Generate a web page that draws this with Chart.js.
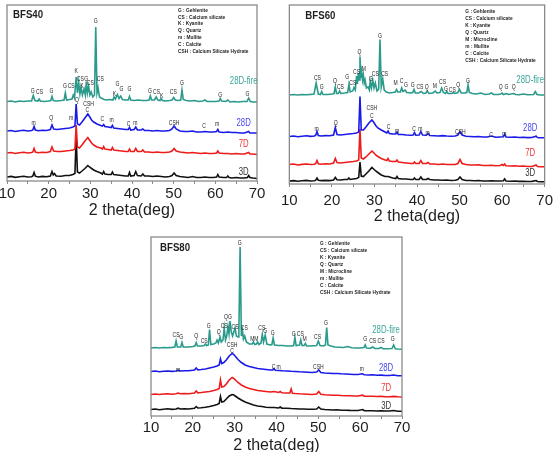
<!DOCTYPE html>
<html>
<head>
<meta charset="utf-8">
<script src="https://cdn.jsdelivr.net/npm/chart.js@4.4.1/dist/chart.umd.min.js"></script>
<style>
  html, body { margin: 0; padding: 0; background: #fff; }
  #page { position: relative; width: 553px; height: 452px; overflow: hidden; background: #fff; }
  canvas { position: absolute; }
</style>
</head>
<body>
<div id="page">
  <canvas id="bfs40" width="274" height="220" style="left:-5px;top:1px"></canvas>
  <canvas id="bfs60" width="282" height="226" style="left:276px;top:1px"></canvas>
  <canvas id="bfs80" width="275" height="223" style="left:139px;top:233px"></canvas>
</div>
<script>
// x range (2 theta, deg) and tick step
const thetaMin = 10, thetaMax = 70, thetaStep = 5;
const seriesNames = ['28D-fire', '28D', '7D', '3D'];

// legends of phases
const phases7 = ['G : Gehlenite', 'CS : Calcium silicate', 'K : Kyanite', 'Q : Quartz',
  'm : Mullite', 'C : Calcite', 'CSH : Calcium Silicate Hydrate'];
const phases8 = ['G : Gehlenite', 'CS : Calcium silicate', 'K : Kyanite', 'Q : Quartz',
  'M : Microcline', 'm : Mullite', 'C : Calcite', 'CSH : Calcium Silicate Hydrate'];

// ---------- BFS40 (intensity = offset above axis) ----------
const bfs40_3D = [[10,4],[11,4.6],[12,3.6],[13,4.3],[14,4.8],[15,4],[15.9,4.3],[16.2,5],[16.5,8.5],[16.8,4.8],[17.5,4],[18.5,4.6],[19.5,4.2],[20.4,5],[20.8,9.5],[21.1,6],[21.4,7.5],[21.8,5],[23,4.8],[24,5.5],[25,5.5],[25.8,6.5],[26.3,7.5],[26.6,44],[26.9,9],[27.4,8],[28,10],[28.7,12.5],[29.4,15.5],[29.8,14],[30.3,12.5],[30.8,11],[31.6,9.5],[32.5,8],[32.9,7],[33.2,9.5],[33.5,7],[34.3,6.5],[35,6.5],[35.3,9],[35.6,6.5],[36.5,6],[37.5,5.5],[38.5,5],[39.1,5],[39.4,8.5],[39.7,5],[40.5,5.5],[40.9,9.5],[41.3,5.5],[42.2,5],[42.6,7],[43,5],[44,5],[45,4.5],[46,5],[47,4.5],[48,4],[49,4.5],[49.6,5.5],[50.1,8],[50.6,5.5],[51.5,4.5],[52.5,4],[53.5,3.5],[54.5,4.5],[55.5,3.5],[56.5,3.5],[57.5,4],[58.5,3.5],[59.5,3.5],[60.3,4],[60.6,6.5],[60.9,4],[62,3.5],[62.7,3.5],[63,5],[63.3,3.5],[64,3],[65,3.5],[66,3],[67,3],[67.7,3.5],[68,5.5],[68.3,3.5],[69,3],[70,2.5]];
const bfs40_7D = [[10,28],[11,28.5],[12,27.5],[13,28.3],[14,28.8],[15,28],[15.9,28.5],[16.2,29],[16.5,32.5],[16.8,29],[17.5,28.3],[18.5,28.8],[19.5,28.5],[20.4,29.5],[20.8,34],[21.2,30],[22,29.5],[23,29.5],[24,30],[25,30.5],[25.8,31],[26.3,32],[26.6,56],[26.9,34],[27.4,33],[28,36],[28.7,40],[29.4,43.5],[29.8,41],[30.3,38],[30.8,36],[31.6,34],[32.5,33],[32.9,32],[33.2,34.5],[33.5,32],[34.3,31.5],[35,31],[35.3,33.5],[35.6,31],[36.5,30.5],[37.5,30],[38.5,29.5],[39.1,29.5],[39.4,32],[39.7,29.5],[40.5,29.5],[40.9,32.5],[41.3,29.5],[42.2,29.5],[42.6,31],[43,29],[44,29],[45,28.5],[46,29],[47,28.5],[48,28.5],[49,29],[49.6,30],[50.1,32.5],[50.6,30],[51.5,29],[52.5,28.5],[53.5,28],[54.5,28.5],[55.5,28],[56.5,27.5],[57.5,28],[58.5,27.5],[59.5,27.5],[60.3,28],[60.6,30],[60.9,28],[62,27.5],[63,27.5],[64,27],[65,27.5],[66,27],[67,27],[68,28.5],[68.3,27],[69,27],[70,26.5]];
const bfs40_28D = [[10,50],[11,50.5],[12,49.5],[13,50.3],[14,50.8],[15,50],[15.9,50.5],[16.2,51],[16.5,54.5],[16.8,51],[17.5,50.3],[18.5,50.8],[19.5,50.5],[20.4,51.5],[20.8,56],[21.2,52],[22,51.5],[23,52],[24,52.5],[25,53],[25.8,54],[26.3,55],[26.6,77],[26.9,57],[27.4,56],[28,59],[28.7,63],[29.4,67],[29.8,64.5],[30.3,61],[30.8,59],[31.6,57],[32.5,55.5],[32.9,55],[33.2,56.5],[33.5,54.5],[34.3,54],[35,53.5],[35.3,55.5],[35.6,53],[36.5,52.5],[37.5,52],[38.5,51.5],[39.1,51.5],[39.4,53.5],[39.7,51],[40.5,51.5],[40.9,54],[41.3,51],[42.2,51],[42.6,52],[43,50.5],[44,50.5],[45,50],[46,50.5],[47,50],[48,50],[49,50.5],[49.6,52],[50.1,55],[50.6,52],[51.5,50],[52.5,49.5],[53.5,49.5],[54.5,50],[55.5,49],[56.5,49],[57.5,49.5],[58.5,49],[59.5,49],[60.3,49.5],[60.6,51.5],[60.9,49],[62,48.5],[63,49],[64,48.5],[65,48.5],[66,48],[67,48],[68,49.5],[68.3,48],[69,48],[70,48]];
const bfs40_fire = [[10,79.5],[11,80],[12,79],[13,80],[14,79.5],[15,80],[15.9,80],[16.3,85.5],[16.7,80.5],[17.4,80],[17.7,82],[18,80],[19,79.5],[20,80],[20.5,80.5],[20.8,84.5],[21.1,80.5],[22,80],[23,80.5],[23.7,81],[24,88],[24.3,81],[25,81.5],[25.6,82],[25.9,86],[26.2,83],[26.6,104],[26.9,88],[27.2,99],[27.5,87],[27.8,93.5],[28.1,86],[28.5,92],[28.8,86],[29.05,99.5],[29.3,88],[29.6,95],[29.9,86],[30.2,89],[30.6,84],[31,86],[31.3,154],[31.6,88],[31.85,93],[32.2,84],[32.6,83],[33.3,81.5],[34,81],[34.7,81.5],[35.4,81],[35.7,84],[36,82],[36.5,86.5],[36.9,82.5],[37.3,85],[37.7,81.5],[38.5,81],[39.1,81],[39.4,84.5],[39.7,81],[40.5,80.5],[41.5,81],[42.5,80.5],[43.5,80.5],[44.1,81],[44.4,85],[44.7,81],[45.4,81],[45.8,84],[46.2,81],[46.7,80.5],[47,82.5],[47.3,80.5],[48,80],[49,80.5],[49.6,81],[50,83.5],[50.4,81],[51,80.5],[51.7,81],[52,91],[52.3,81.5],[53,80.5],[54,80],[55,80.5],[56,79.5],[57,80],[57.5,81],[58,79.5],[59,79.5],[60,79.5],[60.9,80],[61.2,82.5],[61.5,80],[62.5,79.5],[63,81],[63.5,79],[64.5,79.5],[65.5,79],[66.5,79.5],[67.6,79.5],[68,83],[68.4,79.5],[69,79],[70,79]];
const bfs40_peaks = [['G',16.2,90],['CS',17.8,89],['G',20.7,90],['G',23.9,95],['CS',25.4,95],['K',26.6,110],['CS',27.6,102],['K',28,95],['G',29,102],['CS',30,98],['G',31.3,160],['CS',32.4,102],['K',35.8,87],['G',36.5,97],['G',37.5,92],['G',39.4,92],['G',44.3,90],['CS',45.9,89],['K',47.1,85],['CS',49.9,89],['G',52,98],['G',61.2,86],['G',67.7,87],
  ['m',16.4,58],['Q',20.6,63],['m',25.4,63],['Q',26.8,81],['CSH',29.6,77],['C',29.3,71],['C',32.9,62],['m',35.1,61],['C',39.2,57],['m',40.8,58],['CSH',50.1,58],['C',57.3,55],['m',60.4,57]];
const bfs40_tags = [66.8, 100, 58, 37, 9];

// ---------- BFS60 ----------
const bfs60_3D = [[10,3],[11,3.4],[12,2.8],[13,3.2],[14,3.6],[15,3],[15.9,3.3],[16.2,3.8],[16.5,6],[16.8,3.8],[17.5,3.4],[18.5,3.6],[19.5,3.4],[20.4,4],[20.8,6.5],[21.2,4.2],[22,4],[23,4.5],[23.7,4.5],[24,6],[24.3,4.5],[25,5],[25.8,5.5],[26.3,6.5],[26.6,22],[26.9,8],[27.4,7.5],[28,10],[28.7,13],[29.4,16.5],[29.8,15],[30.3,13],[30.8,11.5],[31.6,9],[32.5,7.5],[33.2,7.5],[34.3,6],[35,5.5],[35.3,7.5],[35.6,5.5],[36.5,5],[37.5,5],[38.5,4.5],[39.1,4.5],[39.4,6],[39.7,4.5],[40.5,4.5],[40.9,7],[41.3,4.5],[42.2,4.5],[42.6,5.5],[43,4.5],[44,4],[45,4],[46,3.8],[47,4],[48,3.5],[49,3.8],[49.6,4.5],[50.1,7],[50.6,4.5],[51.5,3.5],[52.5,3.5],[53.5,3.2],[54.5,3.5],[55.5,3],[56.5,3],[57.5,3.2],[58.5,3],[59.5,3],[60.3,3.2],[60.6,5],[60.9,3],[62,2.8],[63,3],[64,2.6],[65,2.8],[66,2.5],[67,2.6],[68,3.5],[68.3,2.5],[69,2.3],[70,2.3]];
const bfs60_7D = [[10,19.5],[11,20],[12,19],[13,19.6],[14,20],[15,19.5],[15.9,19.8],[16.2,20.5],[16.5,23.5],[16.8,20.3],[17.5,19.8],[18.5,20.2],[19.5,20],[20.4,21],[20.8,25.5],[21.2,21.5],[22,21],[23,21.5],[24,22],[25,22.5],[25.8,23],[26.3,24],[26.6,55],[26.9,26],[27.4,25],[28,27],[28.7,30],[29.4,33],[29.8,31.5],[30.3,29],[30.8,27.5],[31.6,25.5],[32.5,24],[32.9,23.5],[33.2,25.5],[33.5,23],[34.3,22.5],[35,22.5],[35.3,24],[35.6,22],[36.5,21.5],[37.5,21],[38.5,20.5],[39.1,20.5],[39.4,22],[39.7,20.5],[40.5,20.5],[40.9,23.5],[41.3,20.5],[42.2,20.5],[42.6,21.5],[43,20],[44,20],[45,19.5],[46,20],[47,19.5],[48,19.5],[49,19.5],[49.6,20.5],[50.1,24.5],[50.6,20.5],[51.5,19.5],[52.5,19],[53.5,19],[54.5,19.3],[55.5,18.5],[56.5,18.5],[57.5,18.8],[58.5,18.3],[59.5,18.5],[60,19.5],[60.3,18.5],[60.6,20],[60.9,18.3],[62,18],[63,18.2],[64,17.8],[65,18],[66,17.5],[67,17.5],[68,19],[68.3,17.5],[69,17.3],[70,17.3]];
const bfs60_28D = [[10,47.5],[11,48],[12,47.2],[13,47.8],[14,48.2],[15,47.6],[15.9,48],[16.2,48.8],[16.5,52.5],[16.8,48.5],[17.5,48],[18.5,48.4],[19.5,48.2],[20.4,49],[20.8,56.5],[21.2,49.5],[22,49],[23,49.5],[24,50],[25,50.5],[25.8,51],[26.3,52],[26.6,87.5],[26.9,54],[27.4,54],[28,57],[28.7,61],[29.4,64],[29.8,62],[30.3,58.5],[30.8,56],[31.6,54],[32.5,52],[32.9,51],[33.2,53],[33.5,50.5],[34.3,50],[35,50],[35.3,52],[35.6,49.5],[36.5,49.5],[37.5,49],[38.5,48.8],[39.1,49],[39.4,51.5],[39.7,48.8],[40.5,49],[40.9,52.5],[41.3,49],[42.2,48.8],[42.6,50.5],[43,48.5],[44,48.3],[45,48],[46,48.4],[47,48],[48,47.8],[49,48],[49.6,49],[50.1,52.5],[50.6,49],[51.5,47.8],[52.5,47.5],[53.5,47.2],[54.5,47.5],[55.5,47],[56.5,47],[57.5,48],[58.5,46.8],[59.5,47],[60.3,47.2],[60.6,50],[60.9,47],[62,46.8],[63,47],[64,46.5],[65,46.7],[66,46.4],[67,46.5],[68,47.8],[68.3,46.5],[69,46.3],[70,46.3]];
const bfs60_fire = [[10,89],[11,89.5],[12,89],[13,89.5],[14,89.2],[15,89.6],[15.8,90],[16.3,101],[16.8,90],[17.3,89.5],[17.6,92.5],[17.9,89.5],[19,89.5],[20,90],[20.5,90.5],[20.8,97],[21.1,90.5],[21.5,90.5],[21.8,93],[22.1,90.5],[23,91],[23.7,91.5],[24,99.5],[24.3,92],[24.9,93],[25.2,96.5],[25.5,94],[25.8,108],[26,100],[26.2,111],[26.4,104],[26.6,127.5],[26.8,106],[27,112.5],[27.2,104],[27.4,109],[27.6,101],[27.8,104],[28.1,96],[28.5,97],[28.8,94],[29,102.5],[29.3,96],[29.6,104],[29.9,96],[30.2,101],[30.6,93],[31,95],[31.3,144.5],[31.6,97],[31.95,105],[32.3,94],[32.8,92],[33.5,91],[34.3,91.5],[34.9,92],[35.2,94.5],[35.5,92],[36.1,92],[36.4,96],[36.7,92.5],[37.2,94],[37.6,91.5],[38.5,91],[39,91.5],[39.3,94.5],[39.6,91],[40.4,91],[41,92.5],[41.5,90.5],[42.1,91],[42.4,93],[42.8,90.5],[43.7,91],[44.3,93],[44.7,91],[45.4,91.5],[45.8,96],[46.2,91.5],[46.7,90.5],[47,92.5],[47.3,90.5],[48.2,90.5],[48.5,91.5],[48.9,90.5],[49.6,91.5],[50,94.5],[50.4,91],[51.2,91],[51.7,91.5],[52,99],[52.3,91.5],[53,90.5],[54,90],[55,91],[56,89.5],[57,90],[57.5,91],[58,89.5],[59,89.5],[59.7,90],[60,91],[60.3,89.5],[61,90.5],[61.5,89.5],[62.7,90.5],[63.2,89.5],[64,89.3],[65,90],[66,89.3],[67.4,89.5],[67.8,92.5],[68.2,89.5],[69,89],[70,89]];
const bfs60_peaks = [['CS',16.6,106],['G',17.6,97],['Q',20.7,103],['CS',22,97],['G',23.6,107],['CS',24.9,101],['CS',25.8,112],['Q',26.5,132],['M',27.5,115],['G',29.1,105],['CS',30.2,110],['G',31.3,148],['CS',32.4,110],['M',35,101],['C',36.4,103],['G',37.4,99],['G',39,99],['CS',40.7,97],['Q',42.3,97],['M',44.2,98],['CS',46,102],['G',46.8,95],['CS',48.3,94],['Q',49.7,99],['G',52,103],['Q',59.7,97],['G',61,97],['Q',62.7,97],
  ['m',16.4,55],['Q',20.9,61],['CSH',29.4,76],['C',29.4,68],['C',33.3,57],['m',35.3,53],['C',39.3,55],['m',40.8,55],['m',42.5,51],['CSH',50.2,52],['C',57.4,49],['m',60.5,50]];
const bfs60_tags = [66.6, 104, 56, 31, 11];

// ---------- BFS80 ----------
const bfs80_3D = [[10,6.5],[11,7],[12,6.3],[13,6.8],[14,7.2],[15,6.6],[16,7],[16.5,7.8],[17,7],[18,7.3],[19,7],[20.4,7.8],[20.8,9.5],[21.2,8],[22,8.3],[23,8.8],[24,9.5],[25,10.5],[25.8,11.5],[26.3,12.5],[26.6,19.5],[26.9,14],[27.4,14.5],[28,17],[28.7,20],[29.4,21.5],[29.8,21],[30.3,19.5],[30.8,18],[31.6,16],[32.5,14],[33.5,12.5],[34.5,11],[35.5,10],[36.5,9.5],[37.5,8.8],[38.5,8.5],[39.4,8.5],[40.5,8],[40.9,9],[41.3,7.8],[42.5,7.8],[43.5,7.5],[44.5,7.3],[45.5,7],[46.5,7],[47.5,6.8],[48.5,6.7],[49.6,7],[50.1,9],[50.6,7],[51.5,6.5],[52.5,6.3],[53.5,6],[54.5,6.2],[55.5,5.8],[56.5,5.8],[57.5,5.6],[58.5,5.5],[59.5,5.5],[60.6,6.5],[61,5.3],[62,5.2],[63,5.3],[64,5],[65,5.2],[66,5],[67,5],[68,5.5],[69,4.8],[70,4.8]];
const bfs80_7D = [[10,21.5],[11,22],[12,21.5],[13,22],[14,22.3],[15,21.8],[16,22.2],[16.5,23],[17,22.2],[18,22.5],[19,22.3],[20.4,23],[20.8,25],[21.2,23.2],[22,23.5],[23,24],[24,24.5],[25,25.5],[25.8,26.5],[26.3,27.5],[26.6,36],[26.9,29],[27.4,29.5],[28,32],[28.7,36],[29.4,38.5],[29.8,37.5],[30.3,35.5],[30.8,33.5],[31.6,31],[32.5,29],[33.5,27.5],[34.5,26.5],[35.5,25.5],[36.5,25],[37.5,24.5],[38.5,24],[39.4,24.5],[40.5,23.5],[40.9,24.5],[41.3,23.2],[42.5,23],[43.2,23],[43.5,27],[43.8,22.8],[44.5,22.5],[45.5,22.2],[46.5,22],[47.5,21.8],[48.5,21.5],[49.6,22],[50.1,24.5],[50.6,21.8],[51.5,21.2],[52.5,21],[53.5,20.8],[54.5,20.8],[55.5,20.5],[56.5,20.3],[57.5,20.2],[58.5,20],[59.5,20],[60.6,20.8],[61,19.8],[62,19.7],[63,19.8],[64,19.5],[65,19.6],[66,19.3],[67,19.3],[68,19.6],[69,19.2],[70,19]];
const bfs80_28D = [[10,44.5],[11,45],[12,44.3],[13,44.8],[14,45],[15,44.6],[16,45],[16.5,45.8],[17,45],[18,45.3],[19,45.2],[20.4,46],[20.8,48],[21.2,46.2],[22,46.5],[23,47],[24,48],[25,49],[25.8,50],[26.3,51],[26.6,57],[26.9,52.5],[27.4,53.5],[28,56],[28.7,60],[29.4,62.5],[29.8,61.5],[30.3,59],[30.8,56.5],[31.6,53.5],[32.5,51],[33.5,49.5],[34.5,48.5],[35.5,47.5],[36.5,47],[37.5,46.5],[38.5,46],[39.1,46],[39.4,47.5],[39.7,45.8],[40.5,45.5],[41.5,45.2],[42.5,45],[43.5,44.7],[44.5,44.5],[45.5,44.2],[46.5,44],[47.5,43.8],[48.5,43.5],[49.6,44],[50.1,46],[50.6,43.5],[51.5,43],[52.5,42.8],[53.5,42.5],[54.5,42.5],[55.5,42.2],[56.5,42],[57.5,41.8],[58.5,41.5],[59.5,41.5],[60.5,42.2],[61,41.2],[62,41],[63,41.2],[64,40.8],[65,40.9],[66,40.5],[67,40.5],[68,41],[69,40.3],[70,40.2]];
const bfs80_fire = [[10,68],[11,68.5],[12,68],[13,68.5],[14,68.3],[15,68.6],[15.7,69],[16,75],[16.3,69],[17.1,69],[17.4,73.5],[17.7,69],[19,69],[20,69.5],[20.5,70],[20.8,73.5],[21.1,70],[22,70],[22.7,70.5],[23,72],[23.3,70.5],[23.7,71],[24,86.5],[24.3,71.5],[25,72],[25.5,73],[25.8,76],[26.1,73],[26.5,79],[26.8,74],[27.2,76],[27.5,88],[27.8,76],[28.1,80],[28.4,89.5],[28.65,82],[28.9,95],[29.2,84],[29.5,80],[29.8,84],[30.1,88],[30.4,80],[30.8,79],[31,82],[31.3,169],[31.6,80],[31.85,86],[32.1,77],[32.4,80],[32.8,74],[33.5,72],[34.2,72],[34.5,74],[34.8,71.5],[35.2,72],[35.5,74],[35.8,71.5],[36.3,73],[36.6,81.5],[36.9,74],[37.3,81],[37.7,72],[38.5,71],[38.9,71.5],[39.2,78],[39.5,71],[40.5,70.5],[41.5,70.5],[42.5,70],[43.5,70],[44.1,70.5],[44.4,78.5],[44.7,70.5],[45.5,71],[45.8,76],[46.1,70.5],[46.6,70.5],[46.9,72.5],[47.2,70],[48.2,70],[49.6,70.5],[50,75],[50.4,70.5],[51.2,70],[51.7,71],[52,88.5],[52.3,71],[53,70],[54,69],[55,68.8],[56,68.5],[57,69.5],[58,68.3],[59,68],[60,68],[60.9,68.5],[61.2,71],[61.5,68],[62.5,67.8],[63,69],[63.5,67.5],[64.5,67.5],[65,68.5],[65.5,67.3],[66.5,67.2],[67.6,67.5],[68,71],[68.4,67.2],[69,67],[70,66.8]];
const bfs80_peaks = [['CS',16,81],['G',17.2,79],['Q',20.8,80],['CS',22.7,75],['G',23.8,90],['Q',26.2,84],['CS',27.5,90],['QG',28.4,99],['CS',30.1,89],['G',31.2,173],['CS',32.3,88],['MM',34.7,77],['CS',36.5,88],['G',37.3,85],['G',39.1,83],['G',44.1,82],['CS',45.7,82],['M',46.7,77],['CS',49.8,79],['G',51.8,93],['G',61.2,77],['CS',63,75],['CS',65,75],['G',67.8,77],
  ['m',16.5,46],['CSH',29.4,71],['C',29.4,65],['C',39.3,49],['m',40.5,49],['CSH',50,49],['m',60.4,47]];
const bfs80_tags = [66.2, 86, 48, 28, 10];

const lineColors = ['#2a9a8b', '#1a1ae8', '#ee1b1b', '#111111'];
const tagColors = ['#3aa699', '#4747f2', '#f03333', '#333333'];

// text squeezed horizontally (the original uses a condensed face)
function squeezed(ctx, text, x, y, sx) {
    ctx.save();
    ctx.translate(x, y);
    ctx.scale(sx, 1);
    ctx.fillText(text, 0, 0);
    ctx.restore();
}

function overlay(cfg) {
    return {
        id: 'overlay_' + cfg.title,
        afterDatasetsDraw(chart) {
            const { ctx, chartArea: a, scales: { x, y } } = chart;
            ctx.save();
            // frame
            ctx.strokeStyle = '#8a8a8a';
            ctx.lineWidth = 1.3;
            ctx.strokeRect(a.left, a.top, a.right - a.left, a.bottom - a.top);
            // panel title
            ctx.fillStyle = '#1e1e1e';
            ctx.textBaseline = 'middle';
            ctx.textAlign = 'left';
            ctx.font = 'bold 10.5px Arial, sans-serif';
            squeezed(ctx, cfg.title, a.left + cfg.titleDx, a.top + cfg.titleDy, 0.92);
            // phase legend
            ctx.font = 'bold 6px Arial, sans-serif';
            cfg.legend.forEach((t, i) => {
                squeezed(ctx, t, a.left + cfg.legDx, a.top + cfg.legDy + i * cfg.legStep, 0.8);
            });
            // peak labels
            ctx.textAlign = 'center';
            ctx.fillStyle = '#262626';
            ctx.font = '7px Arial, sans-serif';
            cfg.peaks.forEach(([t, d, v]) => {
                squeezed(ctx, t, x.getPixelForValue(d), y.getPixelForValue(v), 0.72);
            });
            // series names
            ctx.font = '10.5px Arial, sans-serif';
            seriesNames.forEach((name, i) => {
                ctx.fillStyle = tagColors[i];
                squeezed(ctx, name, x.getPixelForValue(cfg.tags[0]), y.getPixelForValue(cfg.tags[i + 1]), 0.74);
            });
            ctx.restore();
        }
    };
}

function makePanel(id, cfg) {
    const series = [cfg.fire, cfg.d28, cfg.d7, cfg.d3];
    return new Chart(document.getElementById(id), {
        type: 'line',
        data: {
            datasets: series.map((pts, i) => ({
                label: seriesNames[i],
                data: pts.map(p => ({ x: p[0], y: p[1] })),
                borderColor: lineColors[i],
                borderWidth: 1.6,
                pointRadius: 0,
                tension: 0,
                fill: false,
            }))
        },
        options: {
            responsive: false,
            animation: false,
            devicePixelRatio: 1,
            events: [],
            layout: { padding: { left: 12, right: 12, top: 4, bottom: 1 } },
            plugins: { legend: { display: false }, tooltip: { enabled: false } },
            scales: {
                x: {
                    type: 'linear',
                    min: thetaMin,
                    max: thetaMax,
                    afterFit: s => { s.height = cfg.axisH; },
                    ticks: {
                        stepSize: thetaStep,
                        autoSkip: false,
                        maxRotation: 0,
                        padding: cfg.tickPad,
                        color: '#1e1e1e',
                        font: { family: 'Arial, sans-serif', size: 15 },
                        callback: v => (v % 10 === 0 ? v : '')
                    },
                    grid: { drawOnChartArea: false, tickLength: 3, color: '#8a8a8a' },
                    border: { display: false },
                    title: {
                        display: true,
                        text: '2 theta(deg)',
                        color: '#1e1e1e',
                        padding: 0,
                        font: { family: 'Arial, sans-serif', size: 16 }
                    }
                },
                y: { display: false, min: 0, max: cfg.yMax }
            }
        },
        plugins: [overlay(cfg)]
    });
}

makePanel('bfs40', { title: 'BFS40', fire: bfs40_fire, d28: bfs40_28D, d7: bfs40_7D, d3: bfs40_3D,
    peaks: bfs40_peaks, tags: bfs40_tags, legend: phases7, yMax: 176, axisH: 39, tickPad: 1,
    titleDx: 6, titleDy: 10, legDx: 171, legDy: 5, legStep: 6.9 });
makePanel('bfs60', { title: 'BFS60', fire: bfs60_fire, d28: bfs60_28D, d7: bfs60_7D, d3: bfs60_3D,
    peaks: bfs60_peaks, tags: bfs60_tags, legend: phases8, yMax: 179, axisH: 42, tickPad: 5,
    titleDx: 16, titleDy: 11, legDx: 176, legDy: 6, legStep: 7.1 });
makePanel('bfs80', { title: 'BFS80', fire: bfs80_fire, d28: bfs80_28D, d7: bfs80_7D, d3: bfs80_3D,
    peaks: bfs80_peaks, tags: bfs80_tags, legend: phases8, yMax: 179, axisH: 39, tickPad: 0,
    titleDx: 9, titleDy: 11, legDx: 169, legDy: 6, legStep: 7 });
</script>
</body>
</html>
